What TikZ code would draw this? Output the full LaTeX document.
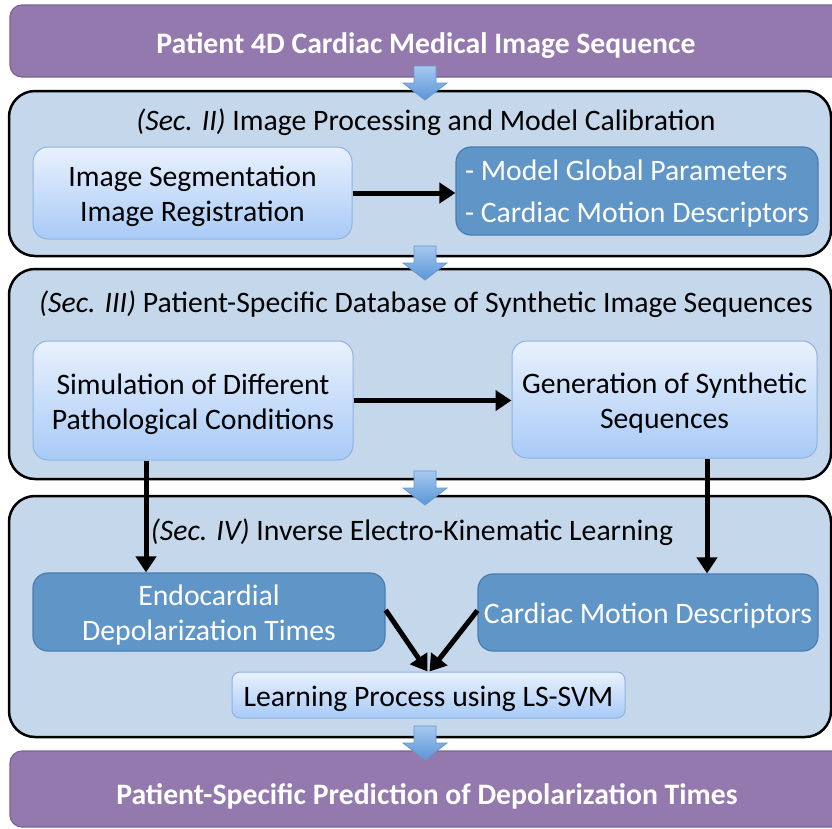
\documentclass[tikz,border=0pt]{standalone}
\usepackage{fontspec}
\setmainfont{Carlito}
\usetikzlibrary{arrows.meta,calc}
\definecolor{purp}{RGB}{148,121,174}
\definecolor{purpd}{RGB}{122,98,150}
\definecolor{outerfill}{RGB}{197,215,234}
\definecolor{lighttop}{RGB}{233,241,253}
\definecolor{lightbot}{RGB}{168,202,247}
\definecolor{lightborder}{RGB}{141,179,226}
\definecolor{darkfill}{RGB}{96,149,200}
\definecolor{darkborder}{RGB}{74,124,176}
\definecolor{arrtop}{RGB}{165,200,240}
\definecolor{arrbot}{RGB}{90,150,215}
\definecolor{arrborder}{RGB}{105,150,205}
\newcommand{\mainsize}{\fontsize{29.7}{35}\selectfont}
\newcommand{\clines}[1]{\raisebox{-4pt}[\height][\depth]{\begin{tabular}{@{}c@{}}#1\end{tabular}}}
\newcommand{\llines}[1]{\raisebox{-3pt}[\height][\depth]{\begin{tabular}{@{}l@{}}#1\end{tabular}}}
\tikzset{
  banner/.style={draw=purpd, line width=1.2pt, fill=purp, rounded corners=12pt, inner sep=0pt},
  bannertext/.style={text=white, font=\fontsize{29.7}{34}\selectfont\bfseries, inner sep=0pt},
  outerbox/.style={draw=black, line width=2.5pt, fill=outerfill, rounded corners=26pt, inner sep=0pt},
  lightbox/.style={draw=lightborder, line width=1pt, top color=lighttop, bottom color=lightbot,
    rounded corners=15pt, inner sep=0pt, font=\mainsize},
  darkbox/.style={draw=darkborder, line width=1.2pt, fill=darkfill, text=white,
    rounded corners=15pt, inner sep=0pt, font=\mainsize},
  titletext/.style={font=\mainsize, inner sep=0pt},
  blk/.style={line width=5pt, -{Triangle[length=16pt,width=20pt]}},
  bluearr/.style={draw=arrborder, line width=0.8pt, top color=arrtop, bottom color=arrbot},
}
\newcommand{\bluearrow}[2]{%
  \path[bluearr] ({#1-11},#2) -- ++(22,0) -- ++(0,17) -- ++(11,0) -- ++(-22,17)
    -- ++(-22,-17) -- ++(11,0) -- cycle;}
\begin{document}
\begin{tikzpicture}[x=1pt,y=-1pt]
\useasboundingbox (0,0) rectangle (832,828);
\clip (0,0) rectangle (832,828);
% banners and outer boxes
\node[banner, minimum width=836pt, minimum height=72pt] (top) at (428,41) {};
\node[bannertext] (toptext) at (426,46) {Patient 4D Cardiac Medical Image Sequence};
\node[outerbox, minimum width=822pt, minimum height=165pt] (sec2) at (420,173.5) {};
\node[outerbox, minimum width=822pt, minimum height=210pt] (sec3) at (420,374) {};
\node[outerbox, minimum width=822pt, minimum height=241pt] (sec4) at (420,616.5) {};
\node[banner, minimum width=836pt, minimum height=76pt] (bot) at (428,789) {};
\node[bannertext] (bottext) at (427,796) {Patient-Specific Prediction of Depolarization Times};
% block arrows
\bluearrow{425}{66}
\bluearrow{425}{246}
\bluearrow{425}{471}
\bluearrow{425}{726}
% titles
\node[titletext] (t2) at (426,122) {\textit{(Sec. II)} Image Processing and Model Calibration};
\node[titletext] (t3) at (426,304) {\textit{(Sec. III)} Patient-Specific Database of Synthetic Image Sequences};
\node[titletext] (t4) at (412,532) {\textit{(Sec. IV)} Inverse Electro-Kinematic Learning};
% inner boxes
\node[lightbox, minimum width=319pt, minimum height=92pt] (seg) at (192.5,193) {\clines{Image Segmentation\\Image Registration}};
\node[darkbox, minimum width=362pt, minimum height=88pt] (model) at (637,191) {\llines{- Model Global Parameters\\[7pt]- Cardiac Motion Descriptors}};
\node[lightbox, minimum width=320pt, minimum height=119pt] (sim) at (193,400.5) {\clines{Simulation of Different\\Pathological Conditions}};
\node[lightbox, minimum width=305pt, minimum height=117pt] (gen) at (664.5,399.5) {\clines{Generation of Synthetic\\Sequences}};
\node[darkbox, minimum width=352pt, minimum height=78pt] (endo) at (209,612) {\clines{Endocardial\\Depolarization Times}};
\node[darkbox, minimum width=340pt, minimum height=77pt] (cmd) at (648,612.5) {\clines{Cardiac Motion Descriptors}};
\node[lightbox, minimum width=393pt, minimum height=46pt, rounded corners=8pt] (learn) at (428.5,695) {\clines{Learning Process using LS-SVM}};
% black arrows
\draw[blk] (seg.east) -- (seg.east -| model.west);
\draw[blk] (sim.east) -- (sim.east -| gen.west);
\draw[blk] ([xshift=-47pt]sim.south) -- ([xshift=-47pt]sim.south |- endo.north);
\draw[blk] ([xshift=42.5pt]gen.south) -- ([xshift=42.5pt]gen.south |- cmd.north);
\draw[blk] ([yshift=2pt]endo.east) -- ([xshift=-1pt]learn.north);
\draw[blk] ([yshift=2pt]cmd.west) -- ([xshift=1pt]learn.north);
\end{tikzpicture}
\end{document}
